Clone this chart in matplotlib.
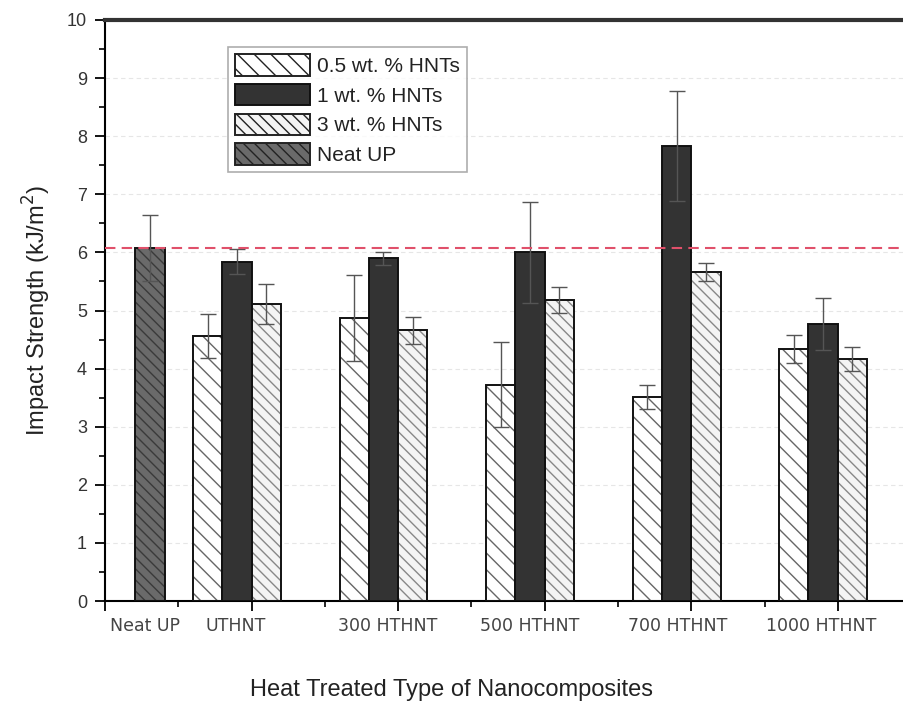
import numpy as np
import matplotlib.pyplot as plt
import matplotlib.transforms as mtransforms
import matplotlib.patches as mpatches

plt.rcParams['font.family'] = ['Liberation Sans', 'DejaVu Sans']

groups = ["UTHNT", "300 HTHNT", "500 HTHNT", "700 HTHNT", "1000 HTHNT"]
tick_labels = ["Neat UP"] + groups

neat_up = 6.07
neat_up_err = 0.57

wt05 = [4.56, 4.87, 3.72, 3.51, 4.34]
wt05_err = [0.38, 0.74, 0.73, 0.21, 0.24]
wt1 = [5.84, 5.90, 6.00, 7.83, 4.77]
wt1_err = [0.22, 0.11, 0.87, 0.94, 0.45]
wt3 = [5.11, 4.66, 5.18, 5.66, 4.17]
wt3_err = [0.34, 0.23, 0.22, 0.15, 0.21]

# where Origin put the tick texts (data units along x)
label_pos = [0.27, 0.89, 1.93, 2.90, 3.91, 4.89]

fig = plt.figure(figsize=(9.04, 7.09), dpi=100)
ax = fig.add_axes([0.1162, 0.1523, 0.8916, 0.8195])

w = 0.2
# middle bar sits just left of each major tick
x = np.arange(1, len(groups) + 1) - w / 2
neat_x = 0.307

for y in range(1, 10):
  ax.axhline(y, color="#e6e6e6", lw=0.8, ls=(0, (4, 3)), zorder=0)

def hbar(xs, vals, face, hatch, hcol):
  # hatch drawn in its own colour, black outline on top
  ax.bar(xs, vals, w, color=face, hatch=hatch, edgecolor=hcol, lw=0, zorder=2)
  ax.bar(xs, vals, w, color="none", edgecolor="#111111", lw=1.4, zorder=3)

plt.rcParams['hatch.linewidth'] = 1.0
hbar(x - w, wt05, "white", "\\\\", "#666666")
ax.bar(x, wt1, w, color="#333333", edgecolor="#111111", lw=1.4, zorder=3)
hbar(x + w, wt3, "#f4f4f4", "\\\\\\", "#888888")
hbar([neat_x], [neat_up], "#6a6a6a", "\\\\\\", "#3a3a3a")

ekw = dict(fmt="none", ecolor="#555555", elinewidth=1.0, capsize=6, capthick=1.0, zorder=4)
ax.errorbar(x - w, wt05, yerr=wt05_err, **ekw)
ax.errorbar(x, wt1, yerr=wt1_err, **ekw)
ax.errorbar(x + w, wt3, yerr=wt3_err, **ekw)
ax.errorbar([neat_x], [neat_up], yerr=[neat_up_err], **ekw)

ax.axhline(neat_up, color="#e0506a", lw=1.5, ls=(0, (5, 3)), zorder=5)

# legend proxies
handles = [
  mpatches.Patch(facecolor="white", hatch="\\\\", edgecolor="#222222", lw=1.4),
  mpatches.Patch(facecolor="#333333", edgecolor="#111111", lw=1.4),
  mpatches.Patch(facecolor="#f4f4f4", hatch="\\\\\\", edgecolor="#222222", lw=1.4),
  mpatches.Patch(facecolor="#6a6a6a", hatch="\\\\\\", edgecolor="#222222", lw=1.4),
]
names = ["0.5 wt. % HNTs", "1 wt. % HNTs", "3 wt. % HNTs", "Neat UP"]
leg = ax.legend(handles, names, loc="upper left", bbox_to_anchor=(228/904, 1 - 47/709),
                bbox_transform=fig.transFigure, fontsize=15, frameon=True, fancybox=False,
                handlelength=3.6, handleheight=1.2, handletextpad=0.3, labelspacing=0.38,
                borderpad=0.35, borderaxespad=0)
leg.get_frame().set_edgecolor("#999999")
leg.get_frame().set_linewidth(1.2)
for t in leg.get_texts():
  t.set_color("#222222")

ax.set_xlim(0, 5.5)
ax.set_ylim(0, 10)
ax.set_yticks(np.arange(0, 11, 1))
ax.set_yticks(np.arange(0.5, 10, 1), minor=True)
ax.set_xticks(np.arange(0, 6, 1))
ax.set_xticks(np.arange(0.5, 5.5, 1), minor=True)
ax.set_xticklabels([])
ax.tick_params(axis="y", which="major", length=7, width=1.3, labelsize=13, labelcolor="#333333", pad=6)
ax.tick_params(axis="y", which="minor", length=4, width=1.2)
ax.tick_params(axis="x", which="major", length=7, width=1.3)
ax.tick_params(axis="x", which="minor", length=4, width=1.2)

trans = mtransforms.blended_transform_factory(ax.transData, ax.transAxes)
for p, lab in zip(label_pos, tick_labels):
  ax.text(p, -0.028, lab, transform=trans, ha="center", va="top", fontsize=12.5,
          color="#444444", family="DejaVu Sans")

ax.spines["right"].set_visible(False)
ax.spines["top"].set_linewidth(3)
ax.spines["top"].set_color("#333333")
ax.spines["left"].set_linewidth(1.5)
ax.spines["bottom"].set_linewidth(1.5)

ax.set_ylabel("Impact Strength (kJ/m$^2$)", fontsize=17, color="#222222", labelpad=10)
fig.text(0.5, 1 - 690/709, "Heat Treated Type of Nanocomposites", ha="center", va="center",
         fontsize=17, color="#222222")

fig.savefig("out.png", dpi=100)
